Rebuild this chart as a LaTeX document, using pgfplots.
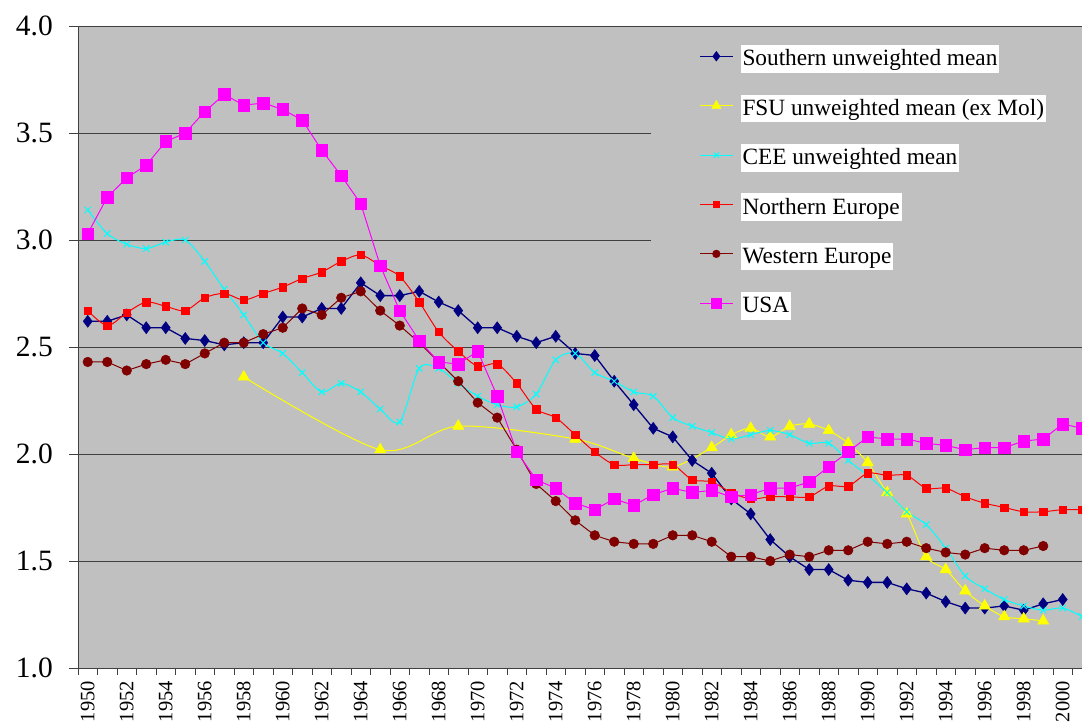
\documentclass[border=0pt]{standalone}
\usepackage{fontspec}
\setmainfont{Liberation Serif}
\usepackage{pgfplots}
\pgfplotsset{compat=1.18}
\definecolor{bg}{HTML}{C0C0C0}
\definecolor{cnavy}{HTML}{000080}
\definecolor{cyel}{HTML}{FFFF00}
\definecolor{ccyan}{HTML}{00FFFF}
\definecolor{cred}{HTML}{FF0000}
\definecolor{cbrown}{HTML}{800000}
\definecolor{cmag}{HTML}{FF00FF}
\newcommand{\lentry}[1]{{\setlength{\fboxsep}{0pt}\colorbox{white}{\hspace{2pt}\rule[-7pt]{0pt}{27.7pt}#1\hspace{2pt}}}}
\begin{document}
\begin{tikzpicture}
\begin{axis}[
  at={(78pt,54pt)}, anchor=south west,
  scale only axis, width=1006.2pt, height=642pt,
  xmin=1949.5, xmax=2001.1, ymin=1, ymax=4,
  axis background/.style={fill=bg},
  axis line style={black!75, line width=0.9pt},
  /pgf/number format/assume math mode=true,
  ytick={1,1.5,...,4},
  y tick label style={font=\fontsize{29.5}{30}\selectfont, inner sep=0pt, xshift=-16pt, /pgf/number format/fixed, /pgf/number format/fixed zerofill, /pgf/number format/precision=1},
  xtick={1950,1952,...,2000},
  minor xtick={1949.5,1950.5,...,2000.5},
  x tick label style={font=\fontsize{20.5}{21}\selectfont, rotate=90, anchor=east, inner sep=0pt, xshift=-4pt, /pgf/number format/1000 sep={}},
  major x tick style={draw=none},
  tick align=outside,
  major tick length=9pt, minor tick length=7pt,
  tick style={black!75, line width=0.8pt},
  xtick pos=bottom, ytick pos=left,
  ymajorgrids, major grid style={black!75, line width=0.9pt},
  legend style={at={(0.5695,0.9938)}, anchor=north west, fill=bg, draw=none,
    inner xsep=48pt, inner ysep=15pt, row sep=27.2pt, column sep=7pt,
    nodes={inner sep=0pt}, font=\fontsize{23.3}{27}\selectfont},
  legend cell align=left,
  legend image code/.code={\draw[mark repeat=2,mark phase=2,#1,every mark/.append style={scale=0.8}] plot coordinates {(0pt,0pt) (16.5pt,0pt) (33pt,0pt)};},
]
% Southern
\addplot[color=cnavy, line width=1.3pt, mark=diamond*, mark size=6pt, mark options={solid, fill=cnavy, draw=cnavy, line width=0.5pt}] coordinates {
(1950,2.62) (1951,2.62) (1952,2.65) (1953,2.59) (1954,2.59) (1955,2.54) (1956,2.53) (1957,2.51) (1958,2.52) (1959,2.52)
(1960,2.64) (1961,2.64) (1962,2.68) (1963,2.68) (1964,2.80) (1965,2.74) (1966,2.74) (1967,2.76) (1968,2.71) (1969,2.67)
(1970,2.59) (1971,2.59) (1972,2.55) (1973,2.52) (1974,2.55) (1975,2.47) (1976,2.46) (1977,2.34) (1978,2.23) (1979,2.12)
(1980,2.08) (1981,1.97) (1982,1.91) (1983,1.79) (1984,1.72) (1985,1.60) (1986,1.52) (1987,1.46) (1988,1.46) (1989,1.41)
(1990,1.40) (1991,1.40) (1992,1.37) (1993,1.35) (1994,1.31) (1995,1.28) (1996,1.28) (1997,1.29) (1998,1.27) (1999,1.30)
(2000,1.32)};
\addlegendentry{\lentry{Southern unweighted mean}}
% FSU
\addplot[color=cyel, line width=1pt, smooth, mark=triangle*, mark size=6.5pt, mark options={solid, fill=cyel, draw=cyel, line width=0.5pt}] coordinates {
(1958,2.36) (1965,2.02) (1969,2.13) (1975,2.07) (1978,1.98) (1980,1.94) (1982,2.03) (1983,2.09) (1984,2.12) (1985,2.08)
(1986,2.13) (1987,2.14) (1988,2.11) (1989,2.05) (1990,1.96) (1991,1.82) (1992,1.72) (1993,1.52) (1994,1.46) (1995,1.36)
(1996,1.29) (1997,1.24) (1998,1.23) (1999,1.22)};
\addlegendentry{\lentry{FSU unweighted mean (ex Mol)}}
% CEE
\addplot[color=ccyan, line width=1pt, smooth, mark=x, mark size=4.5pt, mark options={solid, draw=ccyan, line width=1pt}] coordinates {
(1950,3.14) (1951,3.03) (1952,2.98) (1953,2.96) (1954,2.99) (1955,3.00) (1956,2.90) (1957,2.77) (1958,2.65) (1959,2.52)
(1960,2.47) (1961,2.38) (1962,2.29) (1963,2.33) (1964,2.29) (1965,2.21) (1966,2.15) (1967,2.40) (1968,2.40) (1969,2.33)
(1970,2.27) (1971,2.23) (1972,2.22) (1973,2.28) (1974,2.44) (1975,2.47) (1976,2.38) (1977,2.34) (1978,2.29) (1979,2.27)
(1980,2.17) (1981,2.13) (1982,2.10) (1983,2.07) (1984,2.09) (1985,2.11) (1986,2.09) (1987,2.05) (1988,2.05) (1989,1.97)
(1990,1.90) (1991,1.82) (1992,1.73) (1993,1.67) (1994,1.56) (1995,1.43) (1996,1.37) (1997,1.32) (1998,1.29) (1999,1.27)
(2000,1.28) (2001,1.24)};
\addlegendentry{\lentry{CEE unweighted mean}}
% Northern Europe
\addplot[color=cred, line width=1pt, smooth, mark=square*, mark size=3.7pt, mark options={solid, fill=cred, draw=cred, line width=0.5pt}] coordinates {
(1950,2.67) (1951,2.60) (1952,2.66) (1953,2.71) (1954,2.69) (1955,2.67) (1956,2.73) (1957,2.75) (1958,2.72) (1959,2.75)
(1960,2.78) (1961,2.82) (1962,2.85) (1963,2.90) (1964,2.93) (1965,2.88) (1966,2.83) (1967,2.71) (1968,2.57) (1969,2.48)
(1970,2.41) (1971,2.42) (1972,2.33) (1973,2.21) (1974,2.17) (1975,2.09) (1976,2.01) (1977,1.95) (1978,1.95) (1979,1.95)
(1980,1.95) (1981,1.88) (1982,1.87) (1983,1.82) (1984,1.79) (1985,1.80) (1986,1.80) (1987,1.80) (1988,1.85) (1989,1.85)
(1990,1.91) (1991,1.90) (1992,1.90) (1993,1.84) (1994,1.84) (1995,1.80) (1996,1.77) (1997,1.75) (1998,1.73) (1999,1.73)
(2000,1.74) (2001,1.74)};
\addlegendentry{\lentry{Northern Europe}}
% Western Europe
\addplot[color=cbrown, line width=1pt, mark=*, mark size=4.8pt, mark options={solid, fill=cbrown, draw=cbrown, line width=0.5pt}] coordinates {
(1950,2.43) (1951,2.43) (1952,2.39) (1953,2.42) (1954,2.44) (1955,2.42) (1956,2.47) (1957,2.52) (1958,2.52) (1959,2.56)
(1960,2.59) (1961,2.68) (1962,2.65) (1963,2.73) (1964,2.76) (1965,2.67) (1966,2.60) (1967,2.52) (1968,2.43) (1969,2.34)
(1970,2.24) (1971,2.17) (1972,2.02) (1973,1.86) (1974,1.78) (1975,1.69) (1976,1.62) (1977,1.59) (1978,1.58) (1979,1.58)
(1980,1.62) (1981,1.62) (1982,1.59) (1983,1.52) (1984,1.52) (1985,1.50) (1986,1.53) (1987,1.52) (1988,1.55) (1989,1.55)
(1990,1.59) (1991,1.58) (1992,1.59) (1993,1.56) (1994,1.54) (1995,1.53) (1996,1.56) (1997,1.55) (1998,1.55) (1999,1.57)};
\addlegendentry{\lentry{Western Europe}}
% USA
\addplot[color=cmag, line width=1pt, mark=square*, mark size=5.8pt, mark options={solid, fill=cmag, draw=cmag, line width=0.5pt}] coordinates {
(1950,3.03) (1951,3.20) (1952,3.29) (1953,3.35) (1954,3.46) (1955,3.50) (1956,3.60) (1957,3.68) (1958,3.63) (1959,3.64)
(1960,3.61) (1961,3.56) (1962,3.42) (1963,3.30) (1964,3.17) (1965,2.88) (1966,2.67) (1967,2.53) (1968,2.43) (1969,2.42)
(1970,2.48) (1971,2.27) (1972,2.01) (1973,1.88) (1974,1.84) (1975,1.77) (1976,1.74) (1977,1.79) (1978,1.76) (1979,1.81)
(1980,1.84) (1981,1.82) (1982,1.83) (1983,1.80) (1984,1.81) (1985,1.84) (1986,1.84) (1987,1.87) (1988,1.94) (1989,2.01)
(1990,2.08) (1991,2.07) (1992,2.07) (1993,2.05) (1994,2.04) (1995,2.02) (1996,2.03) (1997,2.03) (1998,2.06) (1999,2.07)
(2000,2.14) (2001,2.12)};
\addlegendentry{\lentry{USA}}
\end{axis}
\pgfresetboundingbox
\path[use as bounding box] (0pt,0pt) rectangle (1082pt,722pt);
\end{tikzpicture}
\end{document}
